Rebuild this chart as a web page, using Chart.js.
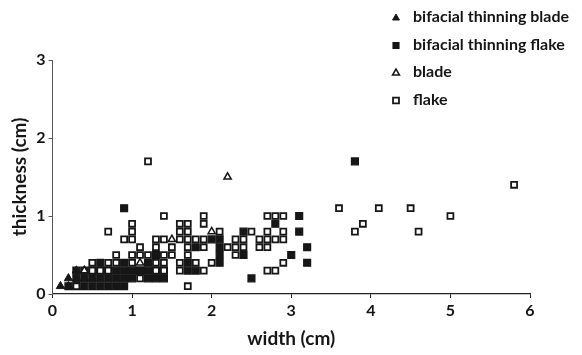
<!DOCTYPE html>
<html>
<head>
<meta charset="utf-8">
<script src="https://cdn.jsdelivr.net/npm/chart.js@4.4.0/dist/chart.umd.min.js"></script>
<style>
  body { margin: 0; background: #fff; }
  #wrap { width: 582px; height: 355px; position: relative; }
</style>
</head>
<body>
<div id="wrap"><canvas id="myChart"></canvas></div>
<script>
// series labels
const seriesNames = ["bifacial thinning blade", "bifacial thinning flake", "blade", "flake"]

// bifacial thinning blade (filled triangles)
const btBladeX = [0.1, 0.2, 0.2, 0.3, 0.3, 0.4, 0.3, 0.4, 0.5, 0.6]
const btBladeY = [0.1, 0.1, 0.2, 0.2, 0.3, 0.3, 0.1, 0.2, 0.2, 0.3]

// bifacial thinning flake (filled squares)
const btFlakeX = [0.2, 0.3, 0.4, 0.5, 0.6, 0.7, 0.8, 0.9,
                  0.3, 0.4, 0.5, 0.6, 0.7, 0.8, 0.9, 1.0, 1.2, 1.3, 1.4,
                  0.3, 0.4, 0.5, 0.6, 0.7, 0.8, 0.9, 1.0, 1.1, 1.2, 1.3, 1.4,
                  0.6, 0.9, 1.2, 1.1,
                  0.9, 1.3, 1.7, 1.7, 1.8, 1.8, 2.0, 2.1, 2.1, 2.1, 2.1, 2.4, 2.4,
                  2.5, 2.8, 3.0, 3.1, 3.1, 3.2, 3.2, 3.8]
const btFlakeY = [0.1, 0.1, 0.1, 0.1, 0.1, 0.1, 0.1, 0.1,
                  0.2, 0.2, 0.2, 0.2, 0.2, 0.2, 0.2, 0.2, 0.2, 0.2, 0.2,
                  0.3, 0.3, 0.3, 0.3, 0.3, 0.3, 0.3, 0.3, 0.3, 0.3, 0.3, 0.3,
                  0.4, 0.4, 0.4, 0.3,
                  1.1, 0.5, 0.4, 0.3, 0.3, 0.6, 0.7, 0.7, 0.6, 0.5, 0.4, 0.8, 0.5,
                  0.2, 0.9, 0.5, 1.0, 0.8, 0.6, 0.4, 1.7]

// blade (open triangles)
const bladeX = [0.4, 1.1, 1.5, 2.0, 2.2]
const bladeY = [0.3, 0.4, 0.7, 0.8, 1.5]

// flake (open squares)
const flakeX = [0.3, 1.1, 1.7, 0.7, 1.2, 1.4,
                0.5, 0.6, 0.7, 0.5, 0.7, 0.8, 1.0,
                0.8, 1.0, 1.1, 1.2, 1.4, 1.5, 1.7,
                1.1, 1.3, 1.5, 1.7, 1.9, 2.2, 2.3, 2.4,
                0.9, 1.0, 1.3, 1.4, 1.6, 1.7, 1.8, 1.9, 2.3, 2.4,
                1.0, 1.6, 1.7, 2.1, 2.5,
                1.0, 1.6, 1.7, 1.9,
                1.9, 1.3, 1.4, 1.3, 1.4, 1.6, 1.8, 2.0, 1.6, 1.9, 2.3,
                2.6, 2.7, 2.8, 2.9, 2.6, 2.7, 2.7, 2.9, 2.7, 2.8, 2.9, 2.9, 2.7, 2.8,
                3.6, 3.8, 3.9, 4.1, 4.5, 4.6, 5.0, 5.8]
const flakeY = [0.1, 0.2, 0.1, 0.8, 1.7, 1.0,
                0.3, 0.3, 0.3, 0.4, 0.4, 0.4, 0.4,
                0.5, 0.5, 0.5, 0.5, 0.5, 0.5, 0.5,
                0.6, 0.6, 0.6, 0.6, 0.6, 0.6, 0.6, 0.6,
                0.7, 0.7, 0.7, 0.7, 0.7, 0.7, 0.7, 0.7, 0.7, 0.7,
                0.8, 0.8, 0.8, 0.8, 0.8,
                0.9, 0.9, 0.9, 0.9,
                1.0, 0.4, 0.4, 0.3, 0.3, 0.4, 0.4, 0.4, 0.3, 0.3, 0.5,
                0.7, 0.7, 0.7, 0.7, 0.6, 0.6, 0.8, 0.8, 1.0, 1.0, 1.0, 0.4, 0.3, 0.3,
                1.1, 0.8, 0.9, 1.1, 1.1, 0.8, 1.0, 1.4]

const xTicks = [0, 1, 2, 3, 4, 5, 6]
const yTicks = [0, 1, 2, 3]

function toPoints(xs, ys){
    const pts = []
    for (let i = 0; i < xs.length; i++){
        pts.push({x: xs[i], y: ys[i]})
    }
    return pts
}

const ink = "#161616"
const font = "Lato, 'Open Sans', sans-serif"

// legend drawn in the top right corner, over the top of the plot
const legendBox = {
    id: "legendBox",
    afterDraw(chart){
        const ctx = chart.ctx
        const ds = chart.data.datasets
        ctx.save()
        ctx.font = "bold 16px " + font
        ctx.textBaseline = "middle"
        ds.forEach((d, i) => {
            const y = 17 + i * 27.5
            ctx.fillStyle = d.backgroundColor
            ctx.strokeStyle = d.borderColor
            ctx.lineWidth = d.borderWidth
            Chart.helpers.drawPoint(ctx, {pointStyle: d.pointStyle, radius: d.pointStyle == "triangle" ? 4 : 4.2, rotation: 0, borderWidth: d.borderWidth}, 396, y + 1)
            ctx.fillStyle = ink
            ctx.fillText(d.label, 413, y)
        })
        ctx.restore()
    }
}

new Chart("myChart", {
    type: "scatter",
    data: {
        datasets: [{
            label: seriesNames[0],
            data: toPoints(btBladeX, btBladeY),
            pointStyle: "triangle",
            pointRadius: 4.8,
            backgroundColor: ink,
            borderColor: ink,
            borderWidth: 1,
            order: 3
        }, {
            label: seriesNames[1],
            data: toPoints(btFlakeX, btFlakeY),
            pointStyle: "rect",
            pointRadius: 4.9,
            backgroundColor: ink,
            borderColor: ink,
            borderWidth: 1.2,
            order: 2
        }, {
            label: seriesNames[2],
            data: toPoints(bladeX, bladeY),
            pointStyle: "triangle",
            pointRadius: 4.2,
            backgroundColor: "#ffffff",
            borderColor: ink,
            borderWidth: 1.5,
            order: 0
        }, {
            label: seriesNames[3],
            data: toPoints(flakeX, flakeY),
            pointStyle: "rect",
            pointRadius: 4.2,
            backgroundColor: "#ffffff",
            borderColor: ink,
            borderWidth: 1.8,
            order: 1
        }]
    },
    options: {
        responsive: true,
        maintainAspectRatio: false,
        animation: false,
        layout: { padding: { top: 60, right: 52, left: 0, bottom: 0 } },
        plugins: {
            legend: { display: false },
            tooltip: { enabled: false }
        },
        scales: {
            x: {
                type: "linear",
                min: 0, max: 6,
                afterFit: (scale) => { scale.height = 61 },
                afterBuildTicks: (scale) => { scale.ticks = xTicks.map(v => ({value: v})) },
                grid: { drawOnChartArea: false, drawTicks: true, tickLength: 4, color: "#222" },
                border: { display: true, color: "#222", width: 1.2 },
                ticks: { color: ink, padding: 3, font: { family: font, size: 16, weight: "bold" } },
                title: { display: true, text: "width (cm)", color: ink,
                         font: { family: font, size: 19, weight: "bold" }, padding: { top: 4, bottom: 5 } }
            },
            y: {
                type: "linear",
                min: 0, max: 3,
                afterFit: (scale) => { scale.width = 52.5 },
                afterBuildTicks: (scale) => { scale.ticks = yTicks.map(v => ({value: v})) },
                grid: { drawOnChartArea: false, drawTicks: true, tickLength: 4, color: "#555" },
                border: { display: true, color: "#555", width: 1 },
                ticks: { color: ink, padding: 3, font: { family: font, size: 16, weight: "bold" } },
                title: { display: true, text: "thickness (cm)", color: ink,
                         font: { family: font, size: 19, weight: "bold" }, padding: { top: 8, bottom: 0 } }
            }
        }
    },
    plugins: [legendBox]
})
</script>
</body>
</html>
